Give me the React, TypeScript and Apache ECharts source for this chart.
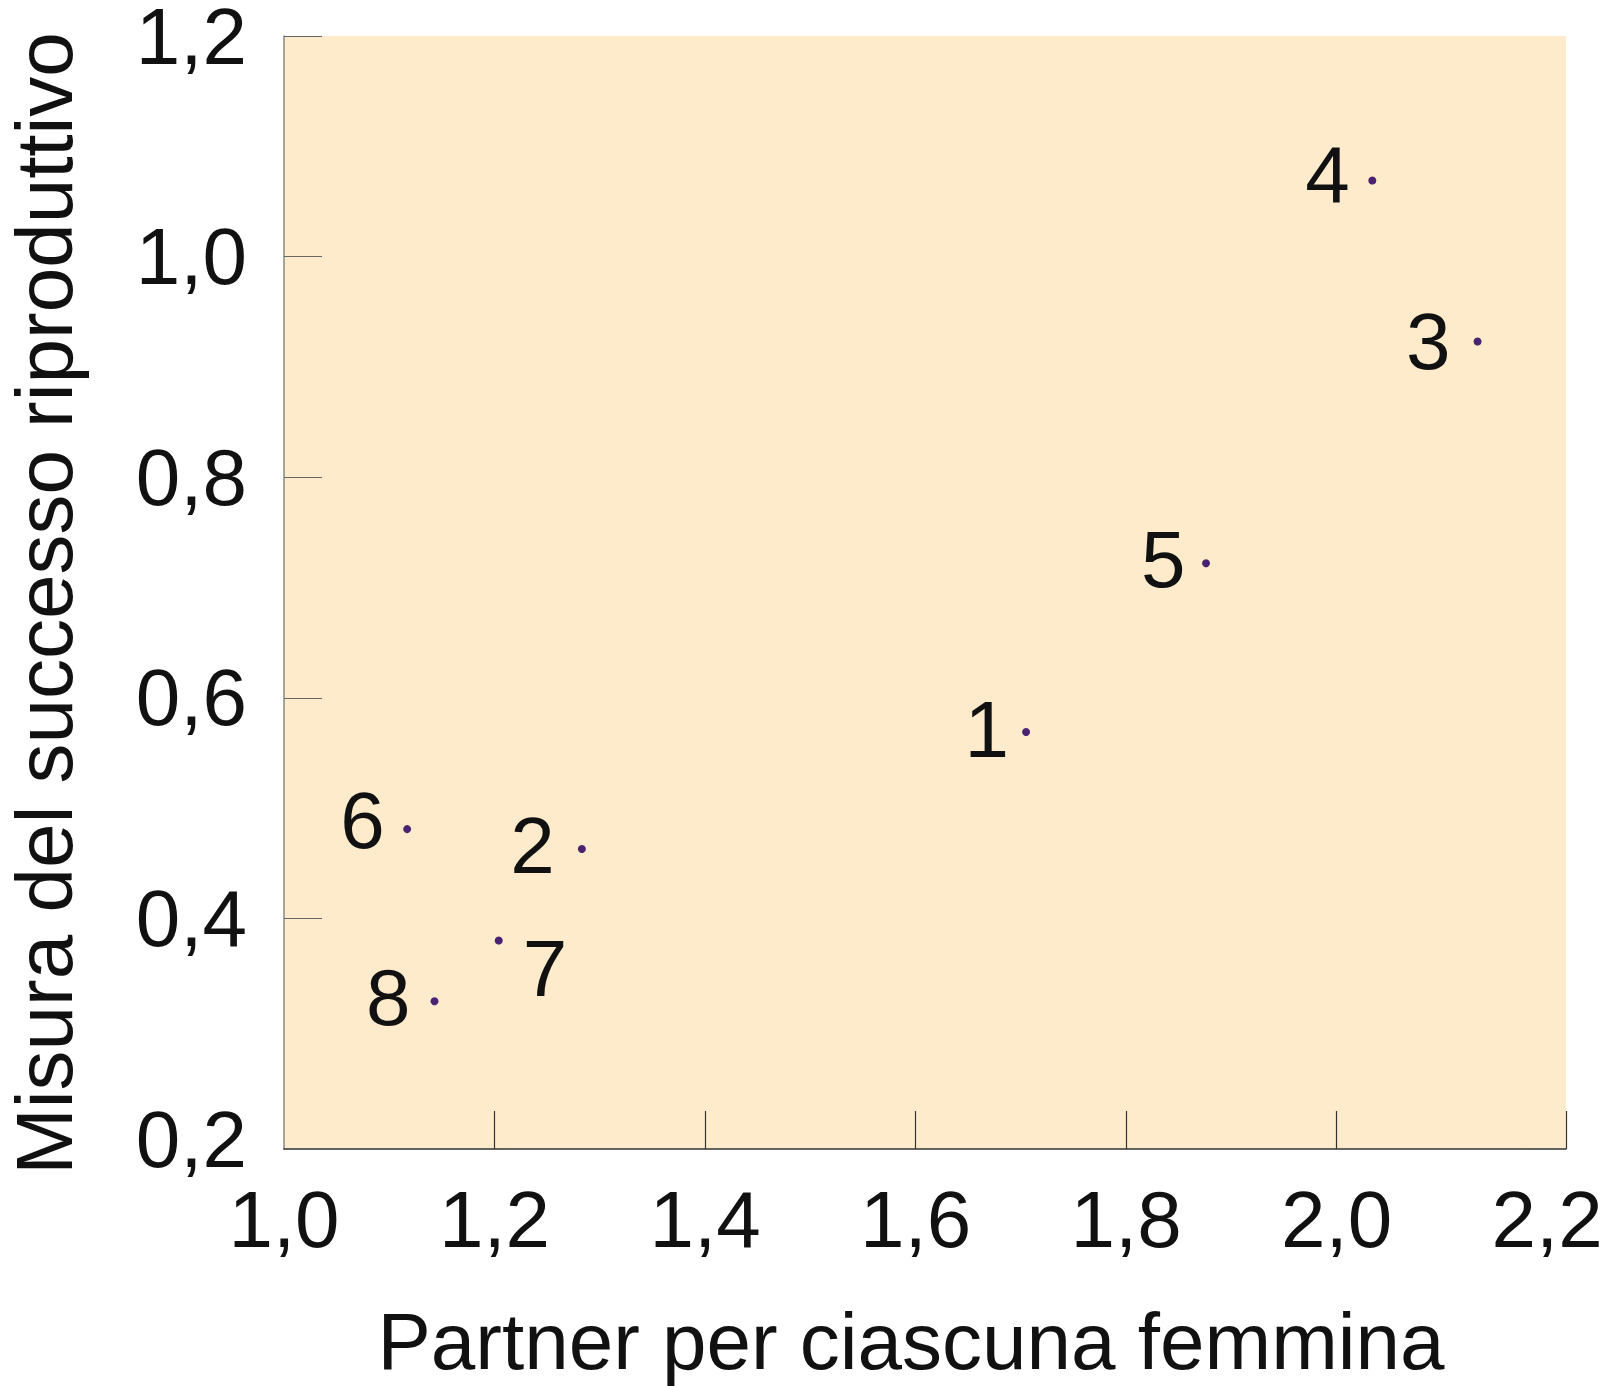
import React, { useEffect, useRef } from "react";
import * as echarts from "echarts";

// ---- data ----
const pointLabels = ["1", "2", "3", "4", "5", "6", "7", "8"];
const partners = [1.705, 1.283, 2.134, 2.034, 1.876, 1.117, 1.204, 1.143];
const success = [0.569, 0.463, 0.923, 1.069, 0.722, 0.481, 0.38, 0.325];
const xTickLabels = [1.0, 1.2, 1.4, 1.6, 1.8, 2.0, 2.2];
const xTickMarks = [1.2, 1.4, 1.6, 1.8, 2.0, 2.218];
const yTickLabels = [0.2, 0.4, 0.6, 0.8, 1.0, 1.2];
const yTickMarks = [0.4, 0.6, 0.8, 1.0, 1.2];
const xTitle = "Partner per ciascuna femmina";
const yTitle = "Misura del successo riproduttivo";

// ---- label placement (style only) ----
const labelPlacement: { position: string; offset: number[] }[] = [
  { position: "left", offset: [7, -3] },
  { position: "left", offset: [-3, -3] },
  { position: "left", offset: [-3, 0] },
  { position: "left", offset: [1.5, -6] },
  { position: "left", offset: [3.5, -4] },
  { position: "left", offset: [1.5, -9] },
  { position: "right", offset: [0, 28] },
  { position: "left", offset: [0, -4] },
];

const FONT = "'Liberation Sans', Arial, Helvetica, sans-serif";
const fmt = (v: number) => Number(v).toFixed(1).replace(".", ",");

export default function App() {
  const ref = useRef<HTMLDivElement>(null);
  useEffect(() => {
    if (!ref.current) return;
    const chart = echarts.init(ref.current, undefined, { renderer: "svg" });
    const data = partners.map((x, i) => ({
      value: [x, success[i]],
      name: pointLabels[i],
      label: {
        position: labelPlacement[i].position,
        offset: labelPlacement[i].offset,
      },
    }));
    chart.setOption({
      animation: false,
      backgroundColor: "#ffffff",
      textStyle: { fontFamily: FONT },
      grid: {
        left: 284,
        top: 36,
        right: 55,
        bottom: 237,
        show: true,
        backgroundColor: "#FDEBCC",
        borderWidth: 0,
        containLabel: false,
        outerBoundsMode: "none",
      },
      xAxis: {
        type: "value",
        min: 1.0,
        max: 2.218,
        name: xTitle,
        nameLocation: "middle",
        nameGap: 152,
        nameTextStyle: {
          fontSize: 80,
          color: "#111",
          fontFamily: FONT,
          padding: [0, 28, 0, 0],
        },
        axisLine: { show: true, lineStyle: { color: "#333", width: 1.5 } },
        axisTick: {
          show: true,
          inside: true,
          length: 38,
          customValues: xTickMarks,
          lineStyle: { color: "#333", width: 1.2 },
        },
        axisLabel: {
          show: true,
          customValues: xTickLabels,
          formatter: fmt,
          fontSize: 80,
          color: "#111",
          margin: 30,
          fontFamily: FONT,
        },
        splitLine: { show: false },
      },
      yAxis: {
        type: "value",
        min: 0.191,
        max: 1.2,
        name: yTitle,
        nameLocation: "middle",
        nameGap: 200,
        nameTextStyle: {
          fontSize: 80,
          color: "#111",
          fontFamily: FONT,
          padding: [0, 22, 0, 0],
        },
        axisLine: { show: true, lineStyle: { color: "#888", width: 1.5 } },
        axisTick: {
          show: true,
          inside: true,
          length: 38,
          customValues: yTickMarks,
          lineStyle: { color: "#666", width: 1.2 },
        },
        axisLabel: {
          show: true,
          customValues: yTickLabels,
          formatter: fmt,
          fontSize: 80,
          lineHeight: 64,
          color: "#111",
          margin: 37,
          fontFamily: FONT,
        },
        splitLine: { show: false },
      },
      series: [
        {
          type: "scatter",
          symbol: "circle",
          symbolSize: 8,
          itemStyle: { color: "#4B226F", opacity: 1 },
          data,
          label: {
            show: true,
            formatter: (p: any) => p.name,
            fontSize: 80,
            color: "#111",
            opacity: 1,
            distance: 20,
            fontFamily: FONT,
          },
        },
      ],
    });
    return () => chart.dispose();
  }, []);
  return (
    <div
      ref={ref}
      style={{ position: "fixed", left: 0, top: 0, width: 1621, height: 1386 }}
    />
  );
}
